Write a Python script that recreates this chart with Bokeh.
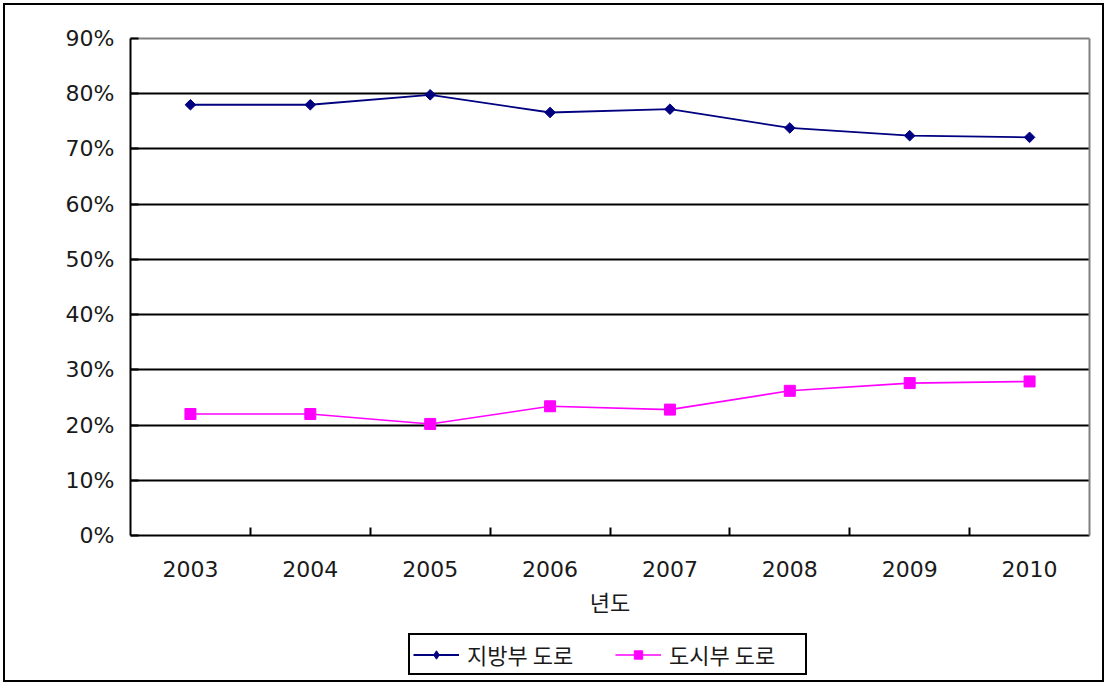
from bokeh.plotting import figure
from bokeh.models import (Range1d, FixedTicker, PrintfTickFormatter, LinearAxis,
                          Legend, LegendItem)
from bokeh.layouts import column
from bokeh.embed import file_html
from bokeh.resources import INLINE

years = ["2003", "2004", "2005", "2006", "2007", "2008", "2009", "2010"]
rural = [78.0, 78.0, 79.8, 76.6, 77.2, 73.8, 72.4, 72.1]   # 지방부 도로
urban = [22.0, 22.0, 20.2, 23.4, 22.8, 26.2, 27.6, 27.9]   # 도시부 도로
y_ticks = [0, 10, 20, 30, 40, 50, 60, 70, 80, 90]
series_names = ["지방부 도로", "도시부 도로"]

BLUE = "#000080"
PINK = "#FF00FF"
NUM_FONT = "DejaVu Sans"
KR_FONT = "Noto Sans CJK KR"
TXT = "#1a1a1a"

xs = [i + 0.5 for i in range(len(years))]

p = figure(width=1097, height=625, output_backend="svg", toolbar_location=None,
           x_range=Range1d(0, len(years)), y_range=Range1d(0, 90),
           min_border_left=125, min_border_right=13, min_border_top=33,
           min_border_bottom=95, outline_line_color=None,
           background_fill_color="white", border_fill_color="white")

# x axis
xa = p.xaxis[0]
xa.ticker = FixedTicker(ticks=xs, minor_ticks=list(range(1, len(years))))
xa.major_label_overrides = {x: y for x, y in zip(xs, years)}
xa.major_tick_in = 0
xa.major_tick_out = 0
xa.minor_tick_in = 8
xa.minor_tick_out = 0
xa.minor_tick_line_color = "black"
xa.minor_tick_line_width = 2
xa.axis_line_color = "black"
xa.axis_line_width = 2
xa.major_label_text_font = NUM_FONT
xa.major_label_text_font_size = "22px"
xa.major_label_text_color = TXT
xa.major_label_standoff = 25
xa.axis_label = "년도"
xa.axis_label_text_font = KR_FONT
xa.axis_label_text_font_size = "22px"
xa.axis_label_text_font_style = "normal"
xa.axis_label_text_color = TXT
xa.axis_label_standoff = 5

# y axis
ya = p.yaxis[0]
ya.ticker = FixedTicker(ticks=y_ticks)
ya.formatter = PrintfTickFormatter(format="%d%%")
ya.major_tick_in = 8
ya.major_tick_out = 0
ya.major_tick_line_color = "black"
ya.major_tick_line_width = 2
ya.minor_tick_line_color = None
ya.axis_line_color = "black"
ya.axis_line_width = 2
ya.major_label_text_font = NUM_FONT
ya.major_label_text_font_size = "22px"
ya.major_label_text_color = TXT
ya.major_label_standoff = 16

# grid
p.xgrid.visible = False
p.ygrid.ticker = FixedTicker(ticks=y_ticks[1:-1])
p.ygrid.grid_line_color = "black"
p.ygrid.grid_line_width = 2

# gray top/right frame edges
for side in ("above", "right"):
    ax = LinearAxis(ticker=FixedTicker(ticks=[]), axis_line_color="#808080",
                    axis_line_width=2, major_tick_line_color=None,
                    minor_tick_line_color=None)
    p.add_layout(ax, side)

p.line(xs, rural, line_color=BLUE, line_width=1.8)
p.scatter(xs, rural, marker="square", angle=0.785398, size=7.5,
          fill_color=BLUE, line_color=BLUE)
p.line(xs, urban, line_color=PINK, line_width=1.6)
p.scatter(xs, urban, marker="square", size=11, fill_color=PINK, line_color=PINK)

# legend strip (separate canvas so the legend box is not clipped);
# its renderers carry the same data but lie outside this strip's y range
p2 = figure(width=1097, height=50, output_backend="svg", toolbar_location=None,
            x_range=Range1d(0, len(years)), y_range=Range1d(200, 300),
            x_axis_location=None, y_axis_location=None, min_border=0,
            outline_line_color=None, background_fill_color="white",
            border_fill_color="white")
p2.xgrid.visible = False
p2.ygrid.visible = False
l1 = p2.line(xs, rural, line_color=BLUE, line_width=1.8)
k1 = p2.scatter(xs, rural, marker="diamond", size=11, fill_color=BLUE, line_color=BLUE)
l2 = p2.line(xs, urban, line_color=PINK, line_width=1.6)
k2 = p2.scatter(xs, urban, marker="square", size=10, fill_color=PINK, line_color=PINK)

legend = Legend(items=[LegendItem(label=series_names[0], renderers=[l1, k1]),
                       LegendItem(label=series_names[1], renderers=[l2, k2])],
                location=(278, 5), orientation="horizontal",
                label_text_font=KR_FONT, label_text_font_size="22px",
                label_text_color=TXT, label_width=133,
                glyph_width=46, glyph_height=21, label_standoff=8,
                spacing=15, padding=3, margin=0,
                border_line_color="black", border_line_width=2,
                border_line_alpha=1,
                background_fill_color="white", background_fill_alpha=1)
p2.add_layout(legend, "center")

layout = column(p, p2, spacing=0,
                styles={"margin": "3px", "border": "2px solid black"})

open("out.html", "w").write(file_html(layout, INLINE))
